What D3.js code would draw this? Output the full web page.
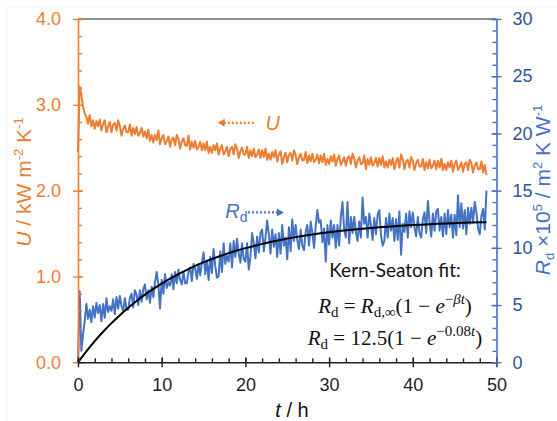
<!DOCTYPE html>
<html><head><meta charset="utf-8">
<script src="https://cdn.jsdelivr.net/npm/d3@7"></script>
<style>body{margin:0;background:#fff} svg{display:block}</style>
</head><body>
<svg id="c" width="557" height="421"></svg>
<script>
// ---- data (sampled every tStep hours from t = 0), one row = one hour ----
const tStep = 0.2;
const uValues = [
2.45,3.21,3.12,2.98,2.90,  2.86,2.78,2.88,2.75,2.82,  2.72,2.81,2.75,2.83,2.70,  2.78,2.82,2.68,2.75,2.80,
2.68,2.77,2.79,2.70,2.82,  2.75,2.64,2.72,2.76,2.68,  2.68,2.77,2.64,2.73,2.66,  2.74,2.64,2.67,2.73,2.63,
2.69,2.61,2.71,2.58,2.65,  2.56,2.65,2.59,2.70,2.54,  2.61,2.65,2.54,2.58,2.63,  2.51,2.60,2.62,2.53,2.65,
2.60,2.49,2.57,2.61,2.53,  2.52,2.64,2.48,2.57,2.50,  2.58,2.48,2.51,2.57,2.47,  2.55,2.47,2.57,2.44,2.51,
2.44,2.53,2.47,2.55,2.42,  2.49,2.53,2.42,2.46,2.51,  2.40,2.49,2.51,2.42,2.54,  2.49,2.38,2.46,2.50,2.42,
2.42,2.51,2.38,2.47,2.40,  2.49,2.39,2.42,2.48,2.38,  2.47,2.39,2.49,2.36,2.43,  2.36,2.45,2.39,2.47,2.34,
2.42,2.46,2.31,2.39,2.44,  2.33,2.42,2.44,2.35,2.47,  2.42,2.31,2.39,2.43,2.35,  2.36,2.45,2.32,2.41,2.34,
2.43,2.33,2.36,2.42,2.32,  2.41,2.33,2.43,2.30,2.37,  2.31,2.40,2.34,2.42,2.29,  2.37,2.41,2.30,2.34,2.39,
2.29,2.38,2.40,2.31,2.43,  2.38,2.27,2.35,2.39,2.31,  2.32,2.41,2.25,2.37,2.30,  2.39,2.29,2.32,2.38,2.28,
2.38,2.30,2.40,2.27,2.34,  2.27,2.36,2.30,2.38,2.25,  2.34,2.38,2.27,2.42,2.36,  2.25,2.34,2.36,2.27,2.39,
2.35,2.24,2.32,2.36,2.28,  2.28,2.37,2.24,2.33,2.26,  2.36,2.26,2.29,2.35,2.25,  2.35,2.27,2.37,2.24,2.31,
2.24,2.33,2.27,2.35,2.22,  2.31,2.35,2.24,2.28,2.33,  2.22,2.31,2.33,2.24,2.36,  2.32,2.21,2.29,2.33,2.25,
2.25,2.34,2.21,2.30,2.18];
const rdValues = [
0.0,6.2,1.0,2.4,3.6,   5.1,3.8,4.6,3.5,4.9,   3.9,5.2,4.3,5.0,3.6,   5.1,3.9,5.6,4.4,4.9,
4.5,5.5,4.2,5.7,4.7,   5.8,4.9,4.5,5.6,4.6,   4.6,5.6,6.0,4.8,6.3,   5.9,5.0,6.3,5.3,6.4,
6.8,5.5,6.3,5.2,6.6,   5.7,7.0,7.9,6.8,4.7,   7.2,6.0,7.7,6.5,7.0,   6.7,7.7,6.4,7.9,6.9,
8.1,7.2,6.8,7.9,6.9,   6.9,7.9,8.3,7.1,8.6,   8.2,7.3,8.6,7.6,8.7,   9.6,7.7,8.9,7.2,9.2,
7.8,9.9,8.4,7.4,7.5,   9.7,7.9,10.4,8.6,9.3,  8.8,10.4,8.3,10.6,9.2, 10.8,9.5,8.7,10.4,9.0,
8.8,10.4,8.1,9.2,11.3, 10.4,9.1,11.0,9.6,11.3, 11.6,9.7,10.9,12.4,11.2, 9.5,11.6,10.1,11.2,9.2,
11.3,9.5,12.0,10.2,10.9, 9.0,11.8,9.7,12.5,10.6, 12.0,10.7,9.9,11.6,10.2, 9.8,11.4,12.0,10.2,12.3,
11.3,10.0,11.9,13.3,12.2, 12.4,10.5,11.7,8.8,12.0, 10.3,12.4,10.9,12.0,10.0, 12.0,10.2,12.7,14.0,11.6,
10.9,14.0,10.4,12.7,11.3, 12.7,11.4,10.6,12.3,10.9, 14.4,12.1,12.7,10.9,13.0, 12.0,10.7,12.6,11.2,12.9,
13.3,11.1,10.2,10.6,12.6, 10.9,13.0,11.5,12.6,10.6, 12.5,10.7,13.2,9.4,12.1,  11.4,13.0,10.9,13.2,11.8,
13.1,11.8,11.0,12.7,11.3, 10.9,12.5,13.1,11.3,14.1, 12.3,11.0,13.0,11.5,13.2, 13.4,11.5,12.7,11.0,13.0,
11.2,13.3,11.8,12.9,10.9, 12.9,11.1,14.6,11.8,13.9, 11.7,13.3,11.2,13.5,12.1, 13.5,12.2,14.0,13.1,11.7,
11.2,12.8,13.4,11.6,15.0];
const fitT = [0,1,2,3,4,5,6,7,8,9,10,11,12,13,14,15,16,17,18,19,20,21,22,23,24,25,26,27,28,29,30,31,32,33,34,35,36,37,38,39,40,41,42,43,44,45,46,47,48,48.8];
const fitRd = [0,0.961,1.848,2.667,3.423,4.121,4.765,5.360,5.909,6.416,6.883,7.315,7.714,8.082,8.422,8.735,9.025,9.292,9.538,9.766,9.976,10.170,10.350,10.515,10.667,10.808,10.938,11.058,11.169,11.272,11.366,11.453,11.534,11.608,11.677,11.740,11.798,11.852,11.902,11.948,11.990,12.030,12.066,12.099,12.130,12.158,12.185,12.209,12.231,12.248];
const xTicks = [0,10,20,30,40,50];
const uTicks = [0,1,2,3,4];
const rdTicks = [0,5,10,15,20,25,30];

const ORANGE = "#ED7D31", BLUE = "#4472C4", DBLUE = "#2F5597";
const svg = d3.select("#c");
const x = d3.scaleLinear().domain([0,50]).range([78,496.5]);
const yU = d3.scaleLinear().domain([0,4]).range([362.3,19]);
const yR = d3.scaleLinear().domain([0,30]).range([362.3,19]);

// faint image border
svg.append("path").attr("d","M7,421 V7 H557").attr("fill","none").attr("stroke","#eeeeee");

// data lines
svg.append("path").datum(uValues)
  .attr("d", d3.line().x((d,i)=>x(i*tStep)).y(d=>yU(d)))
  .attr("fill","none").attr("stroke",ORANGE).attr("stroke-width",2).attr("stroke-linejoin","round");
svg.append("path").datum(rdValues)
  .attr("d", d3.line().x((d,i)=>x(i*tStep)).y(d=>yR(d)))
  .attr("fill","none").attr("stroke",BLUE).attr("stroke-width",2).attr("stroke-linejoin","round");
svg.append("path").datum(fitT.map((t,i)=>[t,fitRd[i]]))
  .attr("d", d3.line().x(d=>x(d[0])).y(d=>yR(d[1])).curve(d3.curveMonotoneX))
  .attr("fill","none").attr("stroke","#000").attr("stroke-width",2);

// top frame line
svg.append("line").attr("x1",x(0)).attr("x2",x(50)).attr("y1",yU(4)).attr("y2",yU(4)).attr("stroke","#222").attr("stroke-width",1.2);

const tickFont = "Liberation Sans, Arial, sans-serif";
function styleAxis(g, color){
  g.select(".domain").attr("stroke",color).attr("stroke-width",1.6);
  g.selectAll(".tick line").attr("stroke",color).attr("stroke-width",1.4);
  g.selectAll(".tick text").attr("fill",color).attr("font-size",18).attr("font-family",tickFont);
}
// left axis (U)
const gL = svg.append("g").attr("transform",`translate(${x(0)},0)`);
gL.call(d3.axisLeft(yU).tickValues(uTicks).tickSize(5).tickSizeOuter(0).tickPadding(12).tickFormat(d3.format(".1f")));
styleAxis(gL, ORANGE);
const gLi = svg.append("g").attr("transform",`translate(${x(0)},0)`);
gLi.call(d3.axisRight(yU).tickValues(uTicks).tickSize(5).tickSizeOuter(0).tickFormat(""));
gLi.call(g=>g.select(".domain").remove());
styleAxis(gLi, ORANGE);
const gLm = svg.append("g").attr("transform",`translate(${x(0)},0)`);
gLm.call(d3.axisRight(yU).tickValues(d3.range(0,4.01,0.2)).tickSize(4).tickSizeOuter(0).tickFormat(""));
gLm.call(g=>g.select(".domain").remove());
styleAxis(gLm, ORANGE);

// bottom axis
const gB = svg.append("g").attr("transform",`translate(0,${yU(0)})`);
gB.call(d3.axisBottom(x).tickValues(xTicks).tickSize(5).tickSizeOuter(0).tickPadding(11).tickFormat(d3.format("d")));
styleAxis(gB, "#222");
const gBi = svg.append("g").attr("transform",`translate(0,${yU(0)})`);
gBi.call(d3.axisTop(x).tickValues(xTicks).tickSize(5).tickSizeOuter(0).tickFormat(""));
gBi.call(g=>g.select(".domain").remove());
styleAxis(gBi, "#222");
const gBm = svg.append("g").attr("transform",`translate(0,${yU(0)})`);
gBm.call(d3.axisTop(x).tickValues(d3.range(0,50.1,2)).tickSize(4).tickSizeOuter(0).tickFormat(""));
gBm.call(g=>g.select(".domain").remove());
styleAxis(gBm, "#222");

// right axis (Rd)
const gR = svg.append("g").attr("transform",`translate(${x(50)},0)`);
gR.call(d3.axisRight(yR).tickValues(rdTicks).tickSize(5).tickSizeOuter(0).tickPadding(11));
styleAxis(gR, BLUE);
gR.selectAll(".tick text").attr("fill",DBLUE);
const gRi = svg.append("g").attr("transform",`translate(${x(50)},0)`);
gRi.call(d3.axisLeft(yR).tickValues(rdTicks).tickSize(5).tickSizeOuter(0).tickFormat(""));
gRi.call(g=>g.select(".domain").remove());
styleAxis(gRi, BLUE);
const gRm = svg.append("g").attr("transform",`translate(${x(50)},0)`);
gRm.call(d3.axisLeft(yR).tickValues(d3.range(0,30.1,1)).tickSize(4).tickSizeOuter(0).tickFormat(""));
gRm.call(g=>g.select(".domain").remove());
styleAxis(gRm, BLUE);

// axis titles
const xt = svg.append("text").attr("x",292).attr("y",417).attr("text-anchor","middle")
  .attr("font-family",tickFont).attr("font-size",20).attr("fill","#111");
xt.append("tspan").attr("font-style","italic").text("t");
xt.append("tspan").text(" / h");

const lt = svg.append("text").attr("transform","translate(31,182) rotate(-90)").attr("text-anchor","middle")
  .attr("font-family",tickFont).attr("font-size",21).attr("fill",ORANGE);
lt.append("tspan").attr("font-style","italic").text("U");
lt.append("tspan").text(" / kW m");
lt.append("tspan").attr("font-size",13).attr("dy",-8).text("-2");
lt.append("tspan").attr("dy",8).text(" K");
lt.append("tspan").attr("font-size",13).attr("dy",-8).text("-1");

const rt = svg.append("text").attr("transform","translate(550,190) rotate(-90)").attr("text-anchor","middle")
  .attr("font-family",tickFont).attr("font-size",21).attr("fill",BLUE);
rt.append("tspan").attr("font-style","italic").text("R");
rt.append("tspan").attr("font-size",13).attr("dy",4).text("d");
rt.append("tspan").attr("dy",-4).text(" \u00d710");
rt.append("tspan").attr("font-size",13).attr("dy",-8).text("5");
rt.append("tspan").attr("dy",8).text(" / m");
rt.append("tspan").attr("font-size",13).attr("dy",-8).text("2");
rt.append("tspan").attr("dy",8).text(" K W");
rt.append("tspan").attr("font-size",13).attr("dy",-8).text("-1");

// annotation arrows
function arrow(x1,x2,y,color){
  const dir = Math.sign(x2-x1);
  svg.append("line").attr("x1",x1).attr("x2",x2-dir*6).attr("y1",y).attr("y2",y)
    .attr("stroke",color).attr("stroke-width",2.2).attr("stroke-dasharray","2,2");
  svg.append("path").attr("d",`M${x2},${y} L${x2-dir*7},${y-4} L${x2-dir*7},${y+4} Z`).attr("fill",color);
}
arrow(x(21.0), x(16.7), yU(2.79), ORANGE);
svg.append("text").attr("x",x(22.4)).attr("y",yU(2.71)).attr("font-family",tickFont).attr("font-size",20)
  .attr("font-style","italic").attr("fill",ORANGE).text("U");
arrow(x(20.3), x(24.6), yR(13.1), BLUE);
const rl = svg.append("text").attr("x",x(17.6)).attr("y",yR(12.6)).attr("font-family",tickFont).attr("font-size",20).attr("fill",BLUE);
rl.append("tspan").attr("font-style","italic").text("R");
rl.append("tspan").attr("font-size",14).attr("dy",4).text("d");

// fit text
const cx = 395;
svg.append("text").attr("x",cx).attr("y",277).attr("text-anchor","middle").attr("font-family","Lato, sans-serif")
  .attr("font-size",19).attr("fill","#111").text("Kern-Seaton fit:");
const mathFont = "Liberation Serif, DejaVu Serif, serif";
function eq(y, parts){
  const t = svg.append("text").attr("x",cx).attr("y",y).attr("text-anchor","middle")
    .attr("font-family",mathFont).attr("font-size",21).attr("fill","#111");
  parts.forEach(p=>{
    const s = t.append("tspan").text(p.s);
    if(p.i) s.attr("font-style","italic");
    if(p.fs) s.attr("font-size",p.fs);
    if(p.dy) s.attr("dy",p.dy);
  });
}
eq(313,[{s:"R",i:1},{s:"d",fs:15,dy:4},{s:" = ",dy:-4},{s:"R",i:1},{s:"d,\u221e",fs:15,dy:4},{s:"(1 \u2212 ",dy:-4},{s:"e",i:1},
  {s:"\u2212",fs:15,dy:-9},{s:"\u03b2t",i:1,fs:15},{s:")",dy:9}]);
eq(345,[{s:"R",i:1},{s:"d",fs:15,dy:4},{s:" = 12.5(1 \u2212 ",dy:-4},{s:"e",i:1},
  {s:"\u22120.08",fs:15,dy:-9},{s:"t",i:1,fs:15},{s:")",dy:9}]);
</script>
</body></html>
